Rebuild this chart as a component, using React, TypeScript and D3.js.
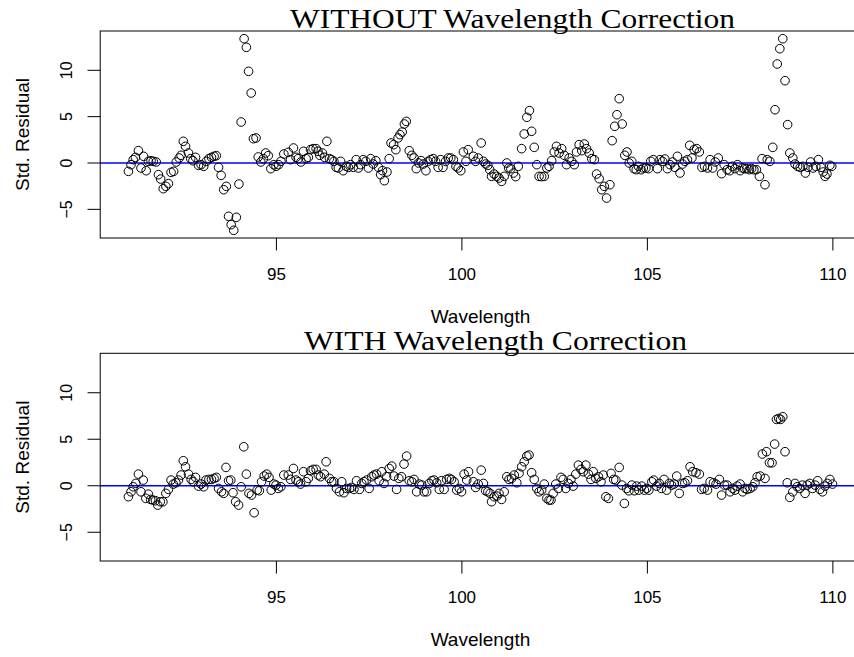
import React from "react";
import * as d3 from "d3";

// ---------- data ----------
const wlWithout = [
  91.01, 91.08, 91.14, 91.2, 91.28, 91.35, 91.42, 91.49, 91.55, 91.62, 91.68, 91.76, 91.82, 91.88, 91.95, 92.02,
  92.09, 92.16, 92.23, 92.3, 92.38, 92.43, 92.49, 92.55, 92.63, 92.69, 92.75, 92.82, 92.9, 92.97, 93.04, 93.11,
  93.18, 93.25, 93.32, 93.38, 93.44, 93.51, 93.58, 93.65, 93.71, 93.78, 93.85, 93.92, 93.99, 94.05, 94.13, 94.19,
  94.25, 94.32, 94.38, 94.45, 94.51, 94.58, 94.65, 94.71, 94.78, 94.85, 94.93, 94.99, 95.06, 95.12, 95.2,
  95.32, 95.38, 95.46, 95.53, 95.59, 95.66, 95.73, 95.8, 95.86, 95.92, 95.99, 96.07, 96.12, 96.17, 96.24, 96.3,
  96.36, 96.43, 96.49, 96.55, 96.61, 96.67, 96.73, 96.8, 96.88, 96.94, 97.0, 97.07, 97.15, 97.21, 97.27, 97.34,
  97.41, 97.48, 97.54, 97.61, 97.68, 97.75, 97.81, 97.86, 97.91, 97.98, 98.04, 98.09, 98.16, 98.22, 98.28, 98.33,
  98.39, 98.45, 98.5, 98.58, 98.65, 98.71, 98.77, 98.83, 98.9, 98.96, 99.03, 99.09, 99.16, 99.23, 99.29, 99.36,
  99.43, 99.49, 99.56, 99.63, 99.7, 99.77, 99.84, 99.9, 99.97, 100.04, 100.11, 100.17,
  100.31, 100.37, 100.44, 100.52, 100.58, 100.64, 100.7, 100.75, 100.8, 100.87, 100.94, 101.0, 101.07, 101.14,
  101.21, 101.26, 101.32, 101.39, 101.45, 101.52, 101.61, 101.68, 101.75, 101.82, 101.88, 101.95, 102.02, 102.08,
  102.15, 102.22, 102.29, 102.35, 102.42, 102.49, 102.55, 102.62, 102.69, 102.76, 102.82, 102.89, 102.96, 103.03,
  103.09, 103.16, 103.23, 103.3, 103.36, 103.43, 103.5, 103.57, 103.63, 103.7, 103.77, 103.84, 103.9, 103.99,
  104.05, 104.12, 104.18, 104.24, 104.32, 104.39, 104.45, 104.51, 104.58, 104.64, 104.7, 104.76, 104.83, 104.89,
  104.96, 105.03, 105.09, 105.16,
  105.27, 105.34, 105.41, 105.47, 105.54, 105.61, 105.68, 105.74, 105.81, 105.88, 105.95, 106.01, 106.08, 106.14,
  106.2, 106.26, 106.33, 106.4, 106.47, 106.54, 106.62, 106.69, 106.76, 106.83, 106.91, 107.0, 107.07, 107.15,
  107.22, 107.29, 107.36, 107.43, 107.5, 107.56, 107.62, 107.68, 107.75, 107.81, 107.87, 107.94, 108.02, 108.09,
  108.17, 108.23, 108.3, 108.38, 108.44, 108.5, 108.57, 108.65, 108.71, 108.78, 108.84, 108.92, 108.98, 109.05,
  109.12, 109.19, 109.26, 109.33, 109.4, 109.47, 109.54, 109.61, 109.68, 109.74, 109.79, 109.84, 109.92, 109.97,
];
const resWithout = [
  -0.9, -0.18, 0.36, 0.61, 1.33, -0.54, 0.72, -0.83, 0.18, 0.25, 0.18, 0.11, -1.26, -1.73, -2.77, -2.52,
  -2.23, -1.01, -0.9, 0.11, 0.54, 0.83, 2.34, 1.8, 1.08, 0.47, 0.25, 0.61, -0.25, -0.18, -0.36, 0.18,
  0.47, 0.61, 0.72, 0.79, -0.47, -1.33, -2.88, -2.52, -5.75, -6.65, -7.26, -5.86, -2.27, 4.42, 13.41, 12.48,
  9.89, 7.55, 2.62, 2.7, 0.65, 0.11, 0.47, 1.08, 0.79, -0.61, -0.18, -0.36, -0.18, 0.18, 0.97,
  1.15, 0.36, 1.62, 0.61, 0.47, 0.11, 1.26, 0.47, 0.61, 1.44, 1.55, 1.55, 1.26, 0.83, 1.08, 0.61,
  2.34, 0.47, 0.36, 0.18, -0.47, -0.54, 0.18, -0.83, -0.36, -0.47, -0.18, -0.47, 0.36, -0.54, -0.18, 0.36,
  0.18, -0.54, 0.47, -0.11, 0.25, -0.47, -1.26, -0.83, -1.91, -0.97, 0.47, 2.16, 1.98, 1.44, 2.7, 3.06,
  3.34, 4.21, 4.49, 1.33, 0.83, 0.54, -0.61, 0.0, 0.25, -0.11, -0.83, 0.18, 0.36, 0.47, 0.18, -0.47,
  0.36, -0.47, 0.18, 0.54, 0.54, 0.36, -0.36, -0.54, -0.83, 1.19, 0.18, 1.44,
  0.72, 0.18, 0.54, 2.16, 0.18, -0.11, -0.25, -0.72, -1.44, -1.19, -1.44, -1.62, -1.98, -1.44,
  0.0, -0.54, -0.61, -1.08, -1.47, -0.36, 1.55, 3.13, 4.93, 5.65, 3.42, 1.69, -0.18, -1.44,
  -1.47, -1.44, -0.54, -0.36, 0.25, 1.19, 1.8, 1.08, 1.55, 0.83, -0.18, 0.54, 0.18, -0.18,
  1.19, 1.98, 1.33, 2.05, 1.55, 1.08, 0.47, 0.36, -1.19, -1.69, -2.88, -2.52, -3.78, -2.34,
  2.41, 3.96, 5.21, 6.94, 4.21, 0.83, 1.19, 0.0, 0.18, -0.61, -0.72, -0.36, -0.72, -0.54,
  -0.54, -0.61, 0.18, 0.36,
  -0.61, 0.36, 0.18, 0.43, -0.61, -0.18, 0.11, -0.47, 0.72, -1.08, -0.11, 0.18, 0.36, 1.91,
  0.54, 1.44, 1.55, 1.19, -0.47, -0.36, -0.54, 0.36, -0.54, 0.11, 0.54, -1.15, -0.18, -0.72,
  -0.83, -0.36, -0.61, -0.18, -0.83, -0.54, -0.61, -0.61, -0.72, -0.61, -0.72, -0.72, -1.44, 0.47,
  -2.34, 0.36, 0.18, 1.69, 5.75, 10.68, 12.33, 13.41, 8.88, 4.14, 1.08, 0.54, -0.11, -0.36,
  -0.47, -0.36, -1.08, -0.47, 0.11, -0.54, -0.36, 0.36, -0.47, -0.97, -1.44, -1.19, -0.25, -0.36,
];

const wlWith = [
  91.01, 91.08, 91.14, 91.21, 91.28, 91.35, 91.41, 91.48, 91.55, 91.61, 91.67, 91.74, 91.8, 91.87, 91.94, 92.02,
  92.09, 92.16, 92.22, 92.29, 92.36, 92.43, 92.49, 92.55, 92.63, 92.7, 92.76, 92.82, 92.9, 92.97, 93.04, 93.1,
  93.18, 93.25, 93.32, 93.38, 93.44, 93.52, 93.58, 93.64, 93.71, 93.77, 93.83, 93.9, 93.98, 94.05, 94.12, 94.19,
  94.26, 94.33, 94.4, 94.48, 94.54, 94.6, 94.67, 94.74, 94.8, 94.86, 94.93, 94.99, 95.05, 95.12, 95.2,
  95.32, 95.38, 95.46, 95.53, 95.59, 95.65, 95.73, 95.8, 95.86, 95.92, 95.99, 96.07, 96.13, 96.19, 96.29, 96.34,
  96.43, 96.49, 96.55, 96.62, 96.7, 96.76, 96.82, 96.89, 96.97, 97.03, 97.09, 97.16, 97.24, 97.3, 97.36, 97.43,
  97.5, 97.57, 97.63, 97.7, 97.77, 97.84, 97.9, 97.97, 98.04, 98.11, 98.17, 98.24, 98.3, 98.37, 98.44, 98.51,
  98.58, 98.65, 98.71, 98.78, 98.85, 98.92, 98.98, 99.05, 99.12, 99.19, 99.25, 99.32, 99.39, 99.45, 99.52, 99.59,
  99.66, 99.72, 99.79, 99.86, 99.93, 99.99, 100.06, 100.13, 100.18,
  100.31, 100.37, 100.44, 100.52, 100.58, 100.64, 100.7, 100.76, 100.8, 100.87, 100.94, 101.0, 101.07, 101.14,
  101.21, 101.27, 101.34, 101.41, 101.48, 101.54, 101.61, 101.68, 101.75, 101.81, 101.88, 101.95, 102.02, 102.08,
  102.15, 102.22, 102.29, 102.35, 102.4, 102.46, 102.53, 102.6, 102.67, 102.73, 102.8, 102.87, 102.94, 103.0,
  103.07, 103.14, 103.21, 103.27, 103.34, 103.41, 103.48, 103.54, 103.61, 103.68, 103.75, 103.81, 103.88, 103.95,
  104.02, 104.09, 104.15, 104.24, 104.31, 104.38, 104.44, 104.5, 104.58, 104.65, 104.71, 104.77, 104.85, 104.92,
  104.98, 105.04, 105.12, 105.17,
  105.25, 105.32, 105.38, 105.45, 105.52, 105.59, 105.65, 105.72, 105.79, 105.86, 105.95, 106.01, 106.08, 106.15,
  106.22, 106.31, 106.4, 106.46, 106.53, 106.62, 106.69, 106.78, 106.85, 106.94, 107.0, 107.08, 107.15, 107.23,
  107.3, 107.36, 107.42, 107.5, 107.57, 107.63, 107.69, 107.77, 107.84, 107.9, 107.96, 108.04, 108.1, 108.17,
  108.21, 108.29, 108.36, 108.43, 108.48, 108.54, 108.59, 108.65, 108.71, 108.77, 108.84, 108.92, 108.98, 109.04,
  109.11, 109.18, 109.25, 109.31, 109.38, 109.45, 109.52, 109.59, 109.65, 109.72, 109.79, 109.85, 109.92, 109.99,
];
const resWith = [
  -1.18, -0.65, -0.11, 0.25, 1.25, -0.65, 0.61, -1.36, -0.9, -1.47, -1.54, -1.61, -2.08, -1.72, -1.72, -0.82,
  -0.39, 0.61, 0.18, 0.32, 0.61, 1.15, 2.69, 2.04, 1.25, 0.68, 0.43, 0.9, -0.04, 0.18, -0.11, 0.61,
  0.68, 0.68, 0.79, 0.9, -0.29, -0.65, -0.82, 1.97, 0.54, 0.61, -0.75, -1.72, -2.08, -0.11, 4.19, 1.25,
  -0.82, -1.0, -2.9, -0.47, -0.54, 0.43, 1.04, 1.25, 0.9, -0.47, 0.18, 0.07, -0.29, -0.11, 1.15,
  1.15, 0.68, 1.86, 0.61, 0.43, 0.18, 1.51, 0.43, 0.79, 1.61, 1.76, 1.76, 1.15, 0.97, 1.25, 2.58,
  0.79, 0.43, 0.43, -0.29, -0.65, 0.43, -0.75, -0.29, -0.29, -0.18, -0.39, 0.54, -0.39, 0.25, 0.43, 0.61,
  -0.29, 0.97, 1.15, 1.25, 0.54, 1.51, 0.25, 0.97, 1.86, 2.11, 1.04, -0.39, 0.79, 0.97, 2.33, 3.19,
  0.54, 0.43, 0.68, -0.65, 0.18, 0.07, -0.65, -0.65, 0.25, 0.54, 0.61, 0.32, -0.39, 0.54, -0.39, 0.68,
  0.79, 0.68, 0.43, -0.47, -0.29, -0.65, 1.25, 0.61, 1.51,
  0.43, -0.18, 0.18, 1.68, 0.25, -0.54, -0.65, -0.82, -1.72, -1.18, -1.11, -0.82, -1.47, -0.65,
  0.97, 0.68, 0.79, 1.15, 0.32, 1.33, 2.04, 2.58, 3.19, 3.3, 1.4, 0.68, -0.29, -0.65,
  -0.47, 0.18, -1.36, -1.54, -1.54, -0.82, 0.18, -0.29, 0.9, 0.68, -0.29, 0.25, 0.68, -0.04,
  1.25, 2.22, 1.76, 1.51, 2.22, 1.25, 0.68, 1.51, 0.79, 0.97, 0.43, 1.15, -1.18, -1.36,
  1.33, 0.68, 0.61, 1.97, 0.07, -1.9, -0.29, -0.54, 0.07, -0.54, -0.04, -0.47, -0.04, -0.47,
  -0.29, -0.47, 0.43, 0.61,
  -0.04, 0.25, -0.29, 0.68, -0.47, 0.25, 0.07, 0.18, 1.04, -0.82, 0.25, 0.32, 0.54, 2.04,
  1.51, 1.4, 1.25, -0.39, -0.29, -0.47, 0.43, 0.32, 0.18, 0.68, -1.0, 0.07, 0.07, -0.65,
  -0.29, -0.47, -0.04, 0.18, -0.65, -0.29, -0.39, -0.29, -0.11, 0.32, 0.97, 1.04, 3.41, 0.79,
  3.66, 2.47, 2.47, 4.48, 7.13, 7.24, 7.13, 7.42, 3.66, 0.32, -1.25, -0.65, 0.25, -0.11,
  -0.29, 0.07, -0.82, 0.07, 0.25, -0.29, 0.07, 0.54, -0.39, -0.65, -0.04, 0.25, 0.68, 0.18,
];

const xTicks = [95, 100, 105, 110];
const yTicks = [-5, 0, 5, 10];
const xDomain = [90.25, 110.75];
const yDomain = [-8.09, 14.24];

const W = 854;
const H = 657;
const PLOT_LEFT = 100.2;
const PLOT_RIGHT = 860.7;

const sans = "'Liberation Sans', Arial, Helvetica, sans-serif";
const serif = "'Liberation Serif', 'DejaVu Serif', serif";

type PanelProps = {
  top: number;
  bottom: number;
  wl: number[];
  res: number[];
  title: string;
  titleX: number;
  titleW: number;
};

function Panel({ top, bottom, wl, res, title, titleX, titleW }: PanelProps) {
  const x = d3.scaleLinear().domain(xDomain).range([PLOT_LEFT, PLOT_RIGHT]);
  const y = d3.scaleLinear().domain(yDomain).range([bottom, top]);
  const fmt = d3.format("d");
  const midY = (top + bottom) / 2;
  const midX = (PLOT_LEFT + PLOT_RIGHT) / 2;
  return (
    <g>
      {/* zero line */}
      <line x1={PLOT_LEFT} x2={PLOT_RIGHT} y1={y(0)} y2={y(0)} stroke="#0000FF" strokeWidth={1.5} />
      {/* points */}
      {wl.map((w, i) => (
        <circle key={i} cx={x(w)} cy={y(res[i])} r={4.3} fill="none" stroke="#000" strokeWidth={1} />
      ))}
      {/* box */}
      <rect x={PLOT_LEFT} y={top} width={PLOT_RIGHT - PLOT_LEFT} height={bottom - top} fill="none" stroke="#000" strokeWidth={1} />
      {/* x axis ticks */}
      {xTicks.map((t) => (
        <g key={"x" + t}>
          <line x1={x(t)} x2={x(t)} y1={bottom} y2={bottom + 12.5} stroke="#000" strokeWidth={1} />
          <text x={x(t)} y={bottom + 42} textAnchor="middle" fontFamily={sans} fontSize={17}>
            {fmt(t)}
          </text>
        </g>
      ))}
      {/* y axis ticks */}
      {yTicks.map((t) => (
        <g key={"y" + t}>
          <line x1={PLOT_LEFT - 12.7} x2={PLOT_LEFT} y1={y(t)} y2={y(t)} stroke="#000" strokeWidth={1} />
          <text
            transform={`translate(${72},${y(t)}) rotate(-90)`}
            textAnchor="middle"
            fontFamily={sans}
            fontSize={16}
          >
            {fmt(t)}
          </text>
        </g>
      ))}
      {/* axis labels */}
      <text x={midX} y={bottom + 85} textAnchor="middle" fontFamily={sans} fontSize={19}>
        Wavelength
      </text>
      <text transform={`translate(${28.5},${midY}) rotate(-90)`} textAnchor="middle" fontFamily={sans} fontSize={19}>
        Std. Residual
      </text>
      {/* title */}
      <text
        x={titleX}
        y={top - 3}
        fontFamily={serif}
        fontSize={28}
        textLength={titleW}
        lengthAdjust="spacingAndGlyphs"
      >
        {title}
      </text>
    </g>
  );
}

export default function App() {
  return (
    <svg
      width={W}
      height={H}
      viewBox={`0 0 ${W} ${H}`}
      style={{ position: "absolute", left: 0, top: 0, background: "#fff" }}
    >
      <rect x={0} y={0} width={W} height={H} fill="#fff" />
      <Panel
        top={31}
        bottom={238}
        wl={wlWithout}
        res={resWithout}
        title="WITHOUT Wavelength Correction"
        titleX={290}
        titleW={445}
      />
      <Panel
        top={353.3}
        bottom={561}
        wl={wlWith}
        res={resWith}
        title="WITH Wavelength Correction"
        titleX={304}
        titleW={383}
      />
    </svg>
  );
}
